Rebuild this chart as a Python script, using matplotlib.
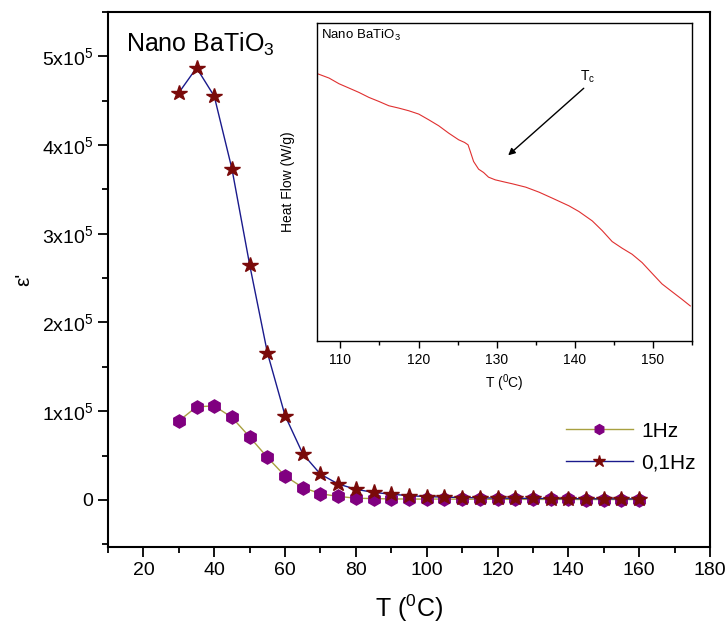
import matplotlib
matplotlib.use("Agg")
import matplotlib.pyplot as plt
import numpy as np
from matplotlib.ticker import MultipleLocator, FixedLocator

plt.rcParams['font.family'] = ['Liberation Sans', 'DejaVu Sans']
plt.rcParams['mathtext.fontset'] = 'custom'
plt.rcParams['mathtext.rm'] = 'Liberation Sans'
plt.rcParams['mathtext.it'] = 'Liberation Sans:italic'

# ---- main data ----
temperature = [30, 35, 40, 45, 50, 55, 60, 65, 70, 75, 80, 85, 90, 95, 100,
               105, 110, 115, 120, 125, 130, 135, 140, 145, 150, 155, 160]
eps_1hz = [0.89e5, 1.05e5, 1.06e5, 0.93e5, 0.71e5, 0.48e5, 0.27e5, 0.14e5, 0.07e5,
           0.04e5, 0.02e5, 0.015e5, 0.012e5, 0.01e5, 0.01e5, 0.01e5, 0.008e5, 0.008e5,
           0.007e5, 0.007e5, 0.006e5, 0.006e5, 0.006e5, 0.005e5, 0.005e5, 0.005e5, 0.005e5]
eps_01hz = [4.59e5, 4.87e5, 4.55e5, 3.73e5, 2.65e5, 1.66e5, 0.95e5, 0.52e5, 0.29e5,
            0.18e5, 0.12e5, 0.085e5, 0.065e5, 0.048e5, 0.038e5, 0.032e5, 0.027e5, 0.024e5,
            0.021e5, 0.019e5, 0.017e5, 0.016e5, 0.015e5, 0.014e5, 0.013e5, 0.012e5, 0.012e5]
series_labels = ['1Hz', '0,1Hz']
ytick_values = [0, 1e5, 2e5, 3e5, 4e5, 5e5]
ytick_labels = ['0', r'$\mathregular{1x10^5}$', r'$\mathregular{2x10^5}$',
                r'$\mathregular{3x10^5}$', r'$\mathregular{4x10^5}$', r'$\mathregular{5x10^5}$']
xtick_values = [20, 40, 60, 80, 100, 120, 140, 160, 180]

# ---- inset (DSC) data ----
dsc_T = [107.07, 108.55, 109.82, 111.10, 112.37, 113.65, 114.92, 116.20, 117.47, 118.75,
         120.03, 121.30, 122.58, 123.85, 125.13, 125.89, 126.33, 126.62, 127.04, 127.68,
         128.32, 128.95, 129.81, 131.08, 132.02, 133.72, 135.42, 137.12, 139.25, 140.52,
         142.22, 143.49, 144.77, 146.05, 147.32, 148.60, 149.87, 151.15, 152.42, 153.70,
         154.77]
dsc_hf = [-0.192, -0.205, -0.222, -0.235, -0.248, -0.263, -0.275, -0.288, -0.295, -0.303,
          -0.313, -0.330, -0.348, -0.370, -0.390, -0.398, -0.405, -0.425, -0.455, -0.478,
          -0.488, -0.502, -0.510, -0.517, -0.522, -0.532, -0.547, -0.565, -0.588, -0.605,
          -0.633, -0.662, -0.695, -0.715, -0.733, -0.758, -0.790, -0.822, -0.845, -0.868,
          -0.888]
inset_xticks = [110, 120, 130, 140, 150]

fig = plt.figure(figsize=(7.27, 6.29), dpi=100)
ax = fig.add_axes([0.1486, 0.1304, 0.828, 0.8506])

c_1hz_line = '#a8a040'
c_1hz_mk = '#800080'
c_01_line = '#1a1a8c'
c_01_mk = '#7a0a0a'

ax.plot(temperature, eps_1hz, '-', color=c_1hz_line, lw=1.0, marker='h',
        ms=9.5, mfc=c_1hz_mk, mec=c_1hz_mk, label=series_labels[0], zorder=2)
ax.plot(temperature, eps_01hz, '-', color=c_01_line, lw=1.0, marker='*',
        ms=11.5, mfc=c_01_mk, mec=c_01_mk, label=series_labels[1], zorder=3)

ax.set_xlim(10, 180)
ax.set_ylim(-0.53e5, 5.5e5)
ax.xaxis.set_major_locator(FixedLocator(xtick_values))
ax.xaxis.set_minor_locator(MultipleLocator(10))
ax.yaxis.set_major_locator(FixedLocator(ytick_values))
ax.set_yticklabels(ytick_labels)
ax.yaxis.set_minor_locator(MultipleLocator(0.5e5))
ax.tick_params(which='major', direction='out', length=7, width=1.3, labelsize=14)
ax.tick_params(which='minor', direction='out', length=4, width=1.3)
for s in ax.spines.values():
    s.set_linewidth(1.5)

ax.set_xlabel(r'T ($\mathregular{^0}$C)', fontsize=18, labelpad=10)
ax.set_ylabel("ε'", fontsize=15)
ax.yaxis.set_label_coords(-0.125, 0.5)

ax.text(0.03, 0.965, r'Nano BaTiO$\mathregular{_3}$', transform=ax.transAxes,
        fontsize=18, va='top', ha='left')

leg = ax.legend(loc='upper right', bbox_to_anchor=(0.99, 0.25), frameon=False,
                fontsize=15, handlelength=3.2, handletextpad=0.4, labelspacing=0.6,
                borderaxespad=0, markerscale=0.75)

# ---- inset ----
ins = fig.add_axes([0.436, 0.4579, 0.516, 0.5055])
ins.plot(dsc_T, dsc_hf, '-', color='#e03030', lw=0.8)
ins.set_xlim(107, 155)
ins.set_ylim(-0.993, -0.040)
ins.set_yticks([])
ins.xaxis.set_major_locator(FixedLocator(inset_xticks))
ins.xaxis.set_minor_locator(MultipleLocator(5))
ins.tick_params(which='major', direction='out', length=5, width=1, labelsize=10)
ins.tick_params(which='minor', direction='out', length=3, width=1)
for s in ins.spines.values():
    s.set_linewidth(1.0)
ins.set_xlabel(r'T ($\mathregular{^0}$C)', fontsize=10)
ins.set_ylabel('Heat Flow (W/g)', fontsize=10, labelpad=16)
ins.text(0.01, 0.985, r'Nano BaTiO$\mathregular{_3}$', transform=ins.transAxes,
         fontsize=9.5, va='top', ha='left')
ins.annotate('', xy=(131.2, -0.442), xytext=(141.4, -0.230),
             arrowprops=dict(arrowstyle='-|>', color='black', lw=1.0, mutation_scale=10))
ins.text(141.6, -0.200, r'T$\mathregular{_c}$', fontsize=10, ha='center', va='center')

fig.savefig('out.png', dpi=100)
